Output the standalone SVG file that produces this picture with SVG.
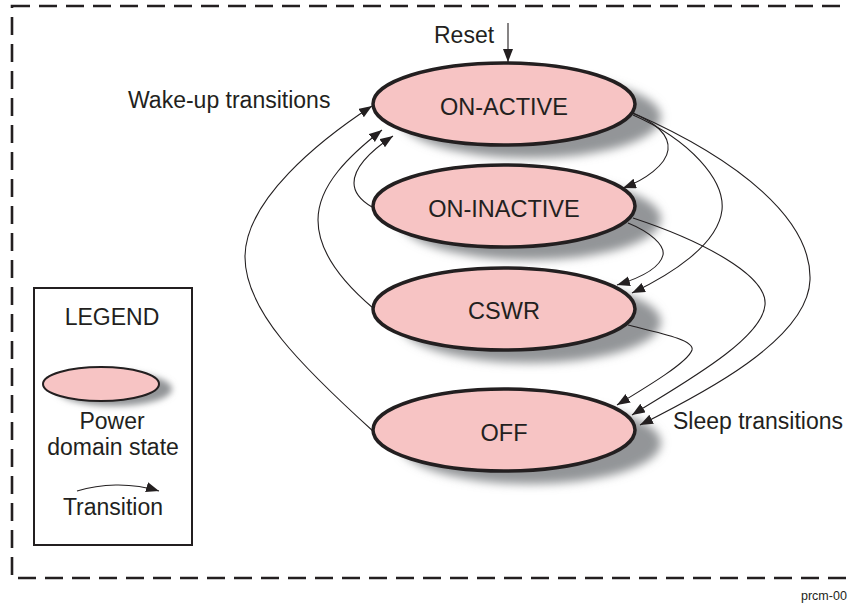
<svg xmlns="http://www.w3.org/2000/svg" width="848" height="603" viewBox="0 0 848 603">
<style>
  text { font-family: "Liberation Sans", Arial, sans-serif; fill: #231f20; }
  .state { fill: #f7c4c4; stroke: #231f20; stroke-width: 3.5; }
  .shadow { fill: #939598; filter: url(#blur); }
  .lbl { font-size: 23.5px; text-anchor: middle; }
  .note { font-size: 23px; }
  .conn { fill: none; stroke: #231f20; stroke-width: 1.1; marker-end: url(#arr); }
</style>
<defs>
  <filter id="blur" x="-30%" y="-50%" width="160%" height="200%">
    <feGaussianBlur stdDeviation="5"/>
  </filter>
  <filter id="blurS" x="-30%" y="-50%" width="160%" height="200%">
    <feGaussianBlur stdDeviation="3"/>
  </filter>
  <marker id="arr" markerUnits="userSpaceOnUse" markerWidth="14" markerHeight="12" refX="13" refY="5" orient="auto">
    <path d="M0,0 L13,5 L0,10 z" fill="#231f20"/>
  </marker>
</defs>

<rect x="12" y="6" width="860" height="572" fill="none" stroke="#231f20" stroke-width="2.6" stroke-dasharray="18 9"/>

<g id="on-active">
  <ellipse class="shadow" cx="530" cy="117" rx="131" ry="41"/>
  <ellipse class="state" cx="504" cy="104" rx="131" ry="41"/>
  <text class="lbl" x="504" y="115">ON-ACTIVE</text>
</g>
<g id="on-inactive">
  <ellipse class="shadow" cx="530" cy="219" rx="131" ry="41"/>
  <ellipse class="state" cx="504" cy="206" rx="131" ry="41"/>
  <text class="lbl" x="504" y="217">ON-INACTIVE</text>
</g>
<g id="cswr">
  <ellipse class="shadow" cx="530" cy="322" rx="131" ry="41"/>
  <ellipse class="state" cx="504" cy="309" rx="131" ry="41"/>
  <text class="lbl" x="504" y="319">CSWR</text>
</g>
<g id="off">
  <ellipse class="shadow" cx="530" cy="443" rx="131" ry="41"/>
  <ellipse class="state" cx="504" cy="430" rx="131" ry="41"/>
  <text class="lbl" x="504" y="441">OFF</text>
</g>

<g id="labels">
  <text class="note" x="434" y="43">Reset</text>
  <text class="note" x="128" y="108">Wake-up transitions</text>
  <text class="note" x="673" y="429">Sleep transitions</text>
  <text x="801" y="600" font-size="12.5">prcm-00</text>
</g>

<g id="connectors">
  <path class="conn" d="M508,23 L508,62"/>
  <path class="conn" d="M374,432 C300,365 245,310 245,257 C245,200 320,140 372,106"/>
  <path class="conn" d="M373,308 C340,280 318,250 318,220 C318,185 350,155 382,130"/>
  <path class="conn" d="M372,207 C360,200 354,192 354,183 C354,165 375,148 393,136"/>
  <path class="conn" d="M632,113 C655,122 670,135 668,150 C666,165 645,180 623,188"/>
  <path class="conn" d="M633,115 C690,140 725,180 722,210 C718,245 670,275 632,293"/>
  <path class="conn" d="M633,113 C740,160 812,220 810,280 C808,340 700,395 640,425"/>
  <path class="conn" d="M628,223 C650,232 665,245 663,255 C660,268 640,278 617,285"/>
  <path class="conn" d="M633,218 C700,240 768,275 765,305 C762,340 680,385 632,415"/>
  <path class="conn" d="M628,325 C660,333 695,340 692,350 C688,362 650,385 617,405"/>
</g>

<g id="legend">
  <rect x="34" y="288" width="158" height="257" fill="#ffffff" stroke="#231f20" stroke-width="2"/>
  <text class="note" x="112" y="325" text-anchor="middle">LEGEND</text>
  <ellipse cx="114" cy="389" rx="58" ry="17" fill="#939598" filter="url(#blurS)"/>
  <ellipse cx="101" cy="384" rx="58" ry="17" fill="#f7c4c4" stroke="#231f20" stroke-width="2"/>
  <text class="note" x="112" y="429" text-anchor="middle">Power</text>
  <text class="note" x="113" y="455" text-anchor="middle">domain state</text>
  <path class="conn" d="M77,491 C100,484 130,482 159,491"/>
  <text class="note" x="113" y="515" text-anchor="middle">Transition</text>
</g>
</svg>
